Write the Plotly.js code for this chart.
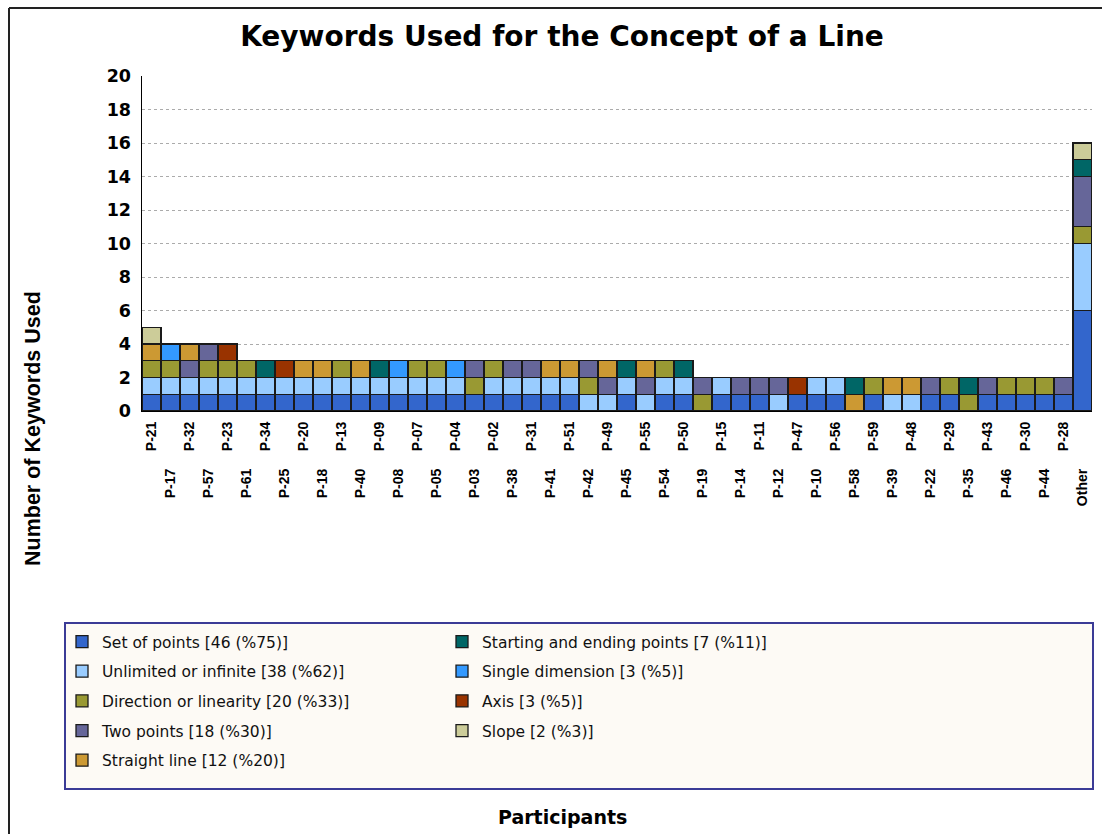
<!DOCTYPE html>
<html>
<head>
<meta charset="utf-8">
<script src="https://cdn.plot.ly/plotly-3.0.1.min.js"></script>
<style>html,body{margin:0;padding:0;background:#fff;}#chart{width:1102px;height:834px;}</style>
</head>
<body>
<div id="chart"></div>
<script>
// ---- Data ----
const participants = ['P-21','P-17','P-32','P-57','P-23','P-61','P-34','P-25','P-20','P-18',
  'P-13','P-40','P-09','P-08','P-07','P-05','P-04','P-03','P-02','P-38',
  'P-31','P-41','P-51','P-42','P-49','P-45','P-55','P-54','P-50','P-19',
  'P-15','P-14','P-11','P-12','P-47','P-10','P-56','P-58','P-59','P-39',
  'P-48','P-22','P-29','P-35','P-43','P-46','P-30','P-44','P-28','Other'];

const setOfPoints  = [1,1,1,1,1,1,1,1,1,1, 1,1,1,1,1,1,1,1,1,1, 1,1,1,0,0,1,0,1,1,0, 1,1,1,0,1,1,1,0,1,0, 0,1,1,0,1,1,1,1,1,6];
const unlimited    = [1,1,1,1,1,1,1,1,1,1, 1,1,1,1,1,1,1,0,1,1, 1,1,1,1,1,1,1,1,1,0, 1,0,0,1,0,1,1,0,0,1, 1,0,0,0,0,0,0,0,0,4];
const direction    = [1,1,0,1,1,1,0,0,0,0, 1,0,0,0,1,1,0,1,1,0, 0,0,0,1,0,0,0,1,0,1, 0,0,0,0,0,0,0,0,1,0, 0,0,1,1,0,1,1,1,0,1];
const twoPoints    = [0,0,1,1,0,0,0,0,0,0, 0,0,0,0,0,0,0,1,0,1, 1,0,0,1,1,0,1,0,0,1, 0,1,1,1,0,0,0,0,0,0, 0,1,0,0,1,0,0,0,1,3];
const straightLine = [1,0,1,0,0,0,0,0,1,1, 0,1,0,0,0,0,0,0,0,0, 0,1,1,0,1,0,1,0,0,0, 0,0,0,0,0,0,0,1,0,1, 1,0,0,0,0,0,0,0,0,0];
const startEnd     = [0,0,0,0,0,0,1,0,0,0, 0,0,1,0,0,0,0,0,0,0, 0,0,0,0,0,1,0,0,1,0, 0,0,0,0,0,0,0,1,0,0, 0,0,0,1,0,0,0,0,0,1];
const singleDim    = [0,1,0,0,0,0,0,0,0,0, 0,0,0,1,0,0,1,0,0,0, 0,0,0,0,0,0,0,0,0,0, 0,0,0,0,0,0,0,0,0,0, 0,0,0,0,0,0,0,0,0,0];
const axisKw       = [0,0,0,0,1,0,0,1,0,0, 0,0,0,0,0,0,0,0,0,0, 0,0,0,0,0,0,0,0,0,0, 0,0,0,0,1,0,0,0,0,0, 0,0,0,0,0,0,0,0,0,0];
const slope        = [1,0,0,0,0,0,0,0,0,0, 0,0,0,0,0,0,0,0,0,0, 0,0,0,0,0,0,0,0,0,0, 0,0,0,0,0,0,0,0,0,0, 0,0,0,0,0,0,0,0,0,1];

const seriesNames = ['Set of points [46 (%75)]','Unlimited or infinite [38 (%62)]','Direction or linearity [20 (%33)]',
  'Two points [18 (%30)]','Straight line [12 (%20)]','Starting and ending points [7 (%11)]',
  'Single dimension [3 (%5)]','Axis [3 (%5)]','Slope [2 (%3)]'];
const seriesValues = [setOfPoints, unlimited, direction, twoPoints, straightLine, startEnd, singleDim, axisKw, slope];
const seriesColors = ['#3366CC','#99CCFF','#999933','#666699','#CC9933','#006666','#3399FF','#993300','#CCCC99'];
const yTicks = [0,2,4,6,8,10,12,14,16,18,20];

// ---- Traces ----
const traces = seriesValues.map((vals, i) => ({
  type: 'bar',
  name: seriesNames[i],
  x: participants,
  y: vals,
  marker: {color: seriesColors[i], line: {color: '#1a1a1a', width: 1.3}},
  legend: i < 5 ? 'legend' : 'legend2',
  legendgroup: 'g' + i,
  hoverinfo: 'x+y+name'
}));

const evenIdx = participants.map((p, i) => i).filter(i => i % 2 === 0);
const oddIdx = participants.map((p, i) => i).filter(i => i % 2 === 1);

// invisible helper trace so the second (staggered labels) axis is drawn
traces.push({type: 'scatter', x: [0], y: [0], xaxis: 'x2', mode: 'markers',
  marker: {opacity: 0}, showlegend: false, hoverinfo: 'skip'});

const L = 142, T = 76, W = 950, H = 335;
const px = v => (v - L) / W;
const py = v => (T + H - v) / H;

const boldSans = {family: 'DejaVu Sans, sans-serif', weight: 'bold', color: '#000'};
const tickBold = {family: 'Liberation Sans, Arial, sans-serif', weight: 'bold', size: 14, color: '#000'};
const legendFont = {family: 'DejaVu Sans, sans-serif', size: 15.5, color: '#111'};

const layout = {
  width: 1102, height: 834,
  margin: {l: L, r: 1102 - L - W, t: T, b: 834 - T - H, pad: 0},
  paper_bgcolor: '#ffffff', plot_bgcolor: '#ffffff',
  barmode: 'stack', bargap: 0,
  title: {text: 'Keywords Used for the Concept of a Line', x: 562 / 1102, xanchor: 'center',
    y: 1 - 36 / 834, yanchor: 'middle', font: Object.assign({size: 28}, boldSans)},
  xaxis: {
    type: 'category', categoryorder: 'array', categoryarray: participants,
    range: [-0.5, participants.length - 0.5],
    tickmode: 'array', tickvals: evenIdx.map(i => participants[i]), ticktext: evenIdx.map(i => participants[i]),
    tickangle: -90, tickfont: tickBold, ticks: '', ticklabelstandoff: 4,
    showline: true, linecolor: '#000', linewidth: 1, showgrid: false, zeroline: false, fixedrange: true
  },
  xaxis2: {
    overlaying: 'x', anchor: 'y', side: 'bottom', type: 'linear',
    range: [-0.5, participants.length - 0.5],
    tickmode: 'array', tickvals: oddIdx, ticktext: oddIdx.map(i => participants[i]),
    tickangle: -90, tickfont: tickBold, ticks: '', ticklabelstandoff: 54,
    showline: false, showgrid: false, zeroline: false, fixedrange: true
  },
  yaxis: {
    range: [0, 20], tickmode: 'array', tickvals: yTicks, ticktext: yTicks.map(String),
    tickfont: Object.assign({size: 17.5}, boldSans), ticks: '', ticklabelstandoff: 6,
    showline: true, linecolor: '#000', linewidth: 1.5,
    showgrid: true, gridcolor: '#ababab', gridwidth: 1, griddash: 'dot', zeroline: false, fixedrange: true
  },
  legend: {
    x: px(62), xanchor: 'left', y: py(625), yanchor: 'top', orientation: 'v',
    traceorder: 'grouped', tracegroupgap: 6.5, bgcolor: 'rgba(0,0,0,0)', borderwidth: 0,
    font: legendFont
  },
  legend2: {
    x: px(442), xanchor: 'left', y: py(625), yanchor: 'top', orientation: 'v',
    traceorder: 'grouped', tracegroupgap: 6.5, bgcolor: 'rgba(0,0,0,0)', borderwidth: 0,
    font: legendFont
  },
  shapes: [
    {type: 'rect', xref: 'paper', yref: 'paper', x0: px(65), x1: px(1093), y0: py(789), y1: py(623),
      fillcolor: '#fdfaf5', line: {color: '#3b3b96', width: 2}, layer: 'below'},
    {type: 'line', xref: 'paper', yref: 'paper', x0: px(9), x1: px(1110), y0: py(8), y1: py(8),
      line: {color: '#222', width: 2}},
    {type: 'line', xref: 'paper', yref: 'paper', x0: px(9), x1: px(9), y0: py(8), y1: py(840),
      line: {color: '#222', width: 2}}
  ],
  annotations: [
    {text: 'Number of Keywords Used', xref: 'paper', yref: 'paper', x: px(33), y: py(429),
      xanchor: 'center', yanchor: 'middle', textangle: -90, showarrow: false,
      font: {family: 'Liberation Sans, Arial, sans-serif', weight: 'bold', size: 21.5, color: '#000'}},
    {text: 'Participants', xref: 'paper', yref: 'paper', x: px(562), y: py(817),
      xanchor: 'center', yanchor: 'middle', showarrow: false,
      font: Object.assign({size: 19}, boldSans)}
  ],
  showlegend: true,
  hovermode: 'closest'
};

Plotly.newPlot('chart', traces, layout, {displayModeBar: false, staticPlot: true});
</script>
</body>
</html>
